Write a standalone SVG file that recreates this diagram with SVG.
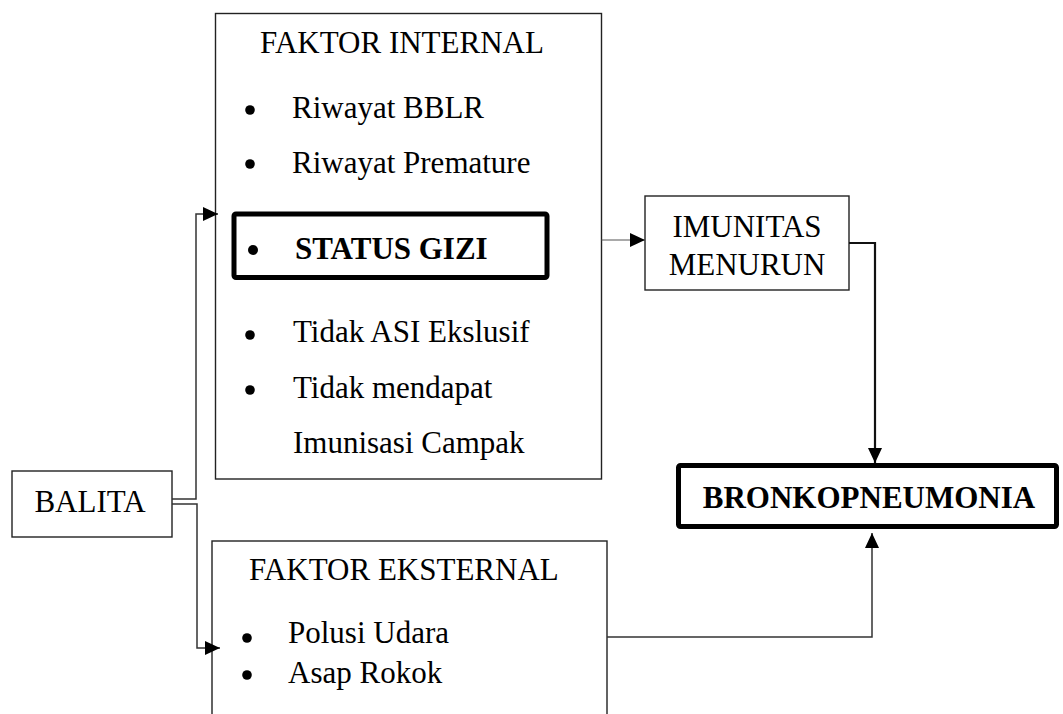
<svg xmlns="http://www.w3.org/2000/svg" width="1063" height="714" viewBox="0 0 1063 714">
<style>
  .box { fill: #fff; stroke: #222; stroke-width: 1.4; }
  .thick { fill: #fff; stroke: #000; stroke-width: 5; }
  .t { font-family: "Liberation Serif", "Times New Roman", serif; font-size: 31px; fill: #000; }
  .b { font-weight: bold; }
  .conn { fill: none; stroke: #333; stroke-width: 1.5; }
  .thin { fill: none; stroke: #555; stroke-width: 1.2; }
  .bold { fill: none; stroke: #111; stroke-width: 2.2; }
</style>
<defs>
  <marker id="ah" viewBox="0 0 15 14" refX="15" refY="7" markerWidth="15" markerHeight="14" markerUnits="userSpaceOnUse" orient="auto">
    <path d="M0,0 L15,7 L0,14 z" fill="#000"/>
  </marker>
</defs>
<rect width="1063" height="714" fill="#fff"/>

<g id="internal">
  <rect class="box" x="215.5" y="13.5" width="386" height="465.5"/>
  <text class="t" x="260" y="53">FAKTOR INTERNAL</text>
  <circle cx="250" cy="110" r="4.8"/>
  <text class="t" x="292" y="118">Riwayat BBLR</text>
  <circle cx="250" cy="164" r="4.8"/>
  <text class="t" x="292" y="173">Riwayat Premature</text>
  <circle cx="250" cy="335" r="4.8"/>
  <text class="t" x="293" y="342">Tidak ASI Ekslusif</text>
  <circle cx="250" cy="390" r="4.8"/>
  <text class="t" x="293" y="398">Tidak mendapat</text>
  <text class="t" x="293" y="453">Imunisasi Campak</text>
</g>

<g id="status-gizi">
  <rect class="thick" x="234" y="214" width="313" height="63.5" rx="2"/>
  <circle cx="253" cy="250" r="5"/>
  <text class="t b" x="295" y="259">STATUS GIZI</text>
</g>

<g id="external">
  <rect class="box" x="212" y="541" width="395" height="200"/>
  <text class="t" x="249" y="580">FAKTOR EKSTERNAL</text>
  <circle cx="247" cy="638" r="4.8"/>
  <text class="t" x="288" y="643">Polusi Udara</text>
  <circle cx="247" cy="675" r="4.8"/>
  <text class="t" x="288" y="683">Asap Rokok</text>
</g>

<g id="balita">
  <rect class="box" x="12" y="471" width="160" height="66"/>
  <text class="t" x="90" y="512" text-anchor="middle">BALITA</text>
</g>

<g id="imunitas">
  <rect class="box" x="645" y="196" width="204" height="94"/>
  <text class="t" x="747" y="237" text-anchor="middle">IMUNITAS</text>
  <text class="t" x="747" y="275" text-anchor="middle">MENURUN</text>
</g>

<g id="bronkopneumonia">
  <rect class="thick" x="678.5" y="465.5" width="378" height="61" rx="2"/>
  <text class="t b" x="869" y="508" text-anchor="middle">BRONKOPNEUMONIA</text>
</g>

<g id="connectors">
  <path class="conn" d="M172,499 H196 V214 H218" marker-end="url(#ah)"/>
  <path class="conn" d="M172,504 H197 V648 H220" marker-end="url(#ah)"/>
  <path class="thin" d="M601.5,240 H645" marker-end="url(#ah)"/>
  <path class="bold" d="M849,243 H875 V463" marker-end="url(#ah)"/>
  <path class="conn" d="M607,637 H872 V533" marker-end="url(#ah)"/>
</g>
</svg>
